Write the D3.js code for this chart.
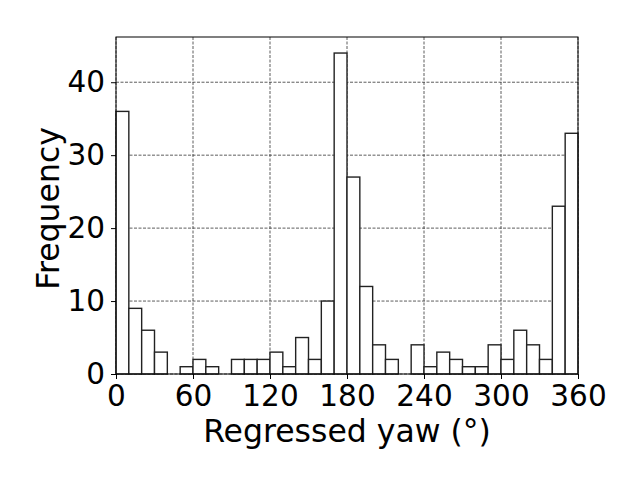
<!DOCTYPE html>
<html><head><meta charset="utf-8">
<script src="https://cdn.jsdelivr.net/npm/d3@7"></script>
<style>body{margin:0;background:#fff}svg{display:block}text{font-family:"DejaVu Sans",sans-serif}</style>
</head><body><svg id="c" width="640" height="480"></svg>
<script>
const binStarts = [0,10,20,30,40,50,60,70,80,90,100,110,120,130,140,150,160,170,180,190,200,210,220,230,240,250,260,270,280,290,300,310,320,330,340,350];
const counts = [36,9,6,3,0,1,2,1,0,2,2,2,3,1,5,2,10,44,27,12,4,2,0,4,1,3,2,1,1,4,2,6,4,2,23,33];
const binWidth = 10;
const xTicks = [0,60,120,180,240,300,360];
const yTicks = [0,10,20,30,40];
const xLabel = "Regressed yaw (°)";
const yLabel = "Frequency";

const L=116, R=578, T=37, B=374;
const svg = d3.select("#c");
const x = d3.scaleLinear().domain([0,360]).range([L,R]);
const y = d3.scaleLinear().domain([0,46.2]).range([B,T]);
const fsTick = 29.5, fsLab = 31.5;

// grid
const g = svg.append("g");
g.selectAll("line.gx").data(xTicks).join("line")
  .attr("x1",d=>x(d)).attr("x2",d=>x(d)).attr("y1",T).attr("y2",B)
  .attr("stroke","#333").attr("stroke-width",0.8).attr("stroke-dasharray","3,1.5");
g.selectAll("line.gy").data(yTicks).join("line")
  .attr("y1",d=>y(d)).attr("y2",d=>y(d)).attr("x1",L).attr("x2",R)
  .attr("stroke","#333").attr("stroke-width",0.8).attr("stroke-dasharray","3,1.5");

// bars
svg.append("g").selectAll("rect").data(binStarts.map((s,i)=>({s,c:counts[i]})).filter(d=>d.c>0)).join("rect")
  .attr("x",d=>x(d.s)).attr("width",d=>x(d.s+binWidth)-x(d.s))
  .attr("y",d=>y(d.c)).attr("height",d=>y(0)-y(d.c))
  .attr("fill","#fff").attr("stroke","#222").attr("stroke-width",1.4);

// frame
svg.append("rect").attr("x",L).attr("y",T).attr("width",R-L).attr("height",B-T)
  .attr("fill","none").attr("stroke","#000").attr("stroke-width",1);

// axes
const xa = svg.append("g").attr("transform",`translate(0,${B})`)
  .call(d3.axisBottom(x).tickValues(xTicks).tickSize(5).tickPadding(6).tickFormat(d3.format("d")));
const ya = svg.append("g").attr("transform",`translate(${L},0)`)
  .call(d3.axisLeft(y).tickValues(yTicks).tickSize(5).tickPadding(6).tickFormat(d3.format("d")));
[xa,ya].forEach(a=>{
  a.select(".domain").remove();
  a.selectAll("line").attr("stroke","#000").attr("stroke-width",1);
  a.selectAll("text").attr("font-size",fsTick).attr("font-family","DejaVu Sans").attr("fill","#000");
});

svg.append("text").attr("x",(L+R)/2).attr("y",442).attr("text-anchor","middle")
  .attr("font-size",fsLab).attr("fill","#000").text(xLabel);
svg.append("text").attr("transform",`translate(59,${(T+B)/2+3}) rotate(-90)`).attr("text-anchor","middle")
  .attr("font-size",fsLab).attr("fill","#000").text(yLabel);
</script></body></html>
